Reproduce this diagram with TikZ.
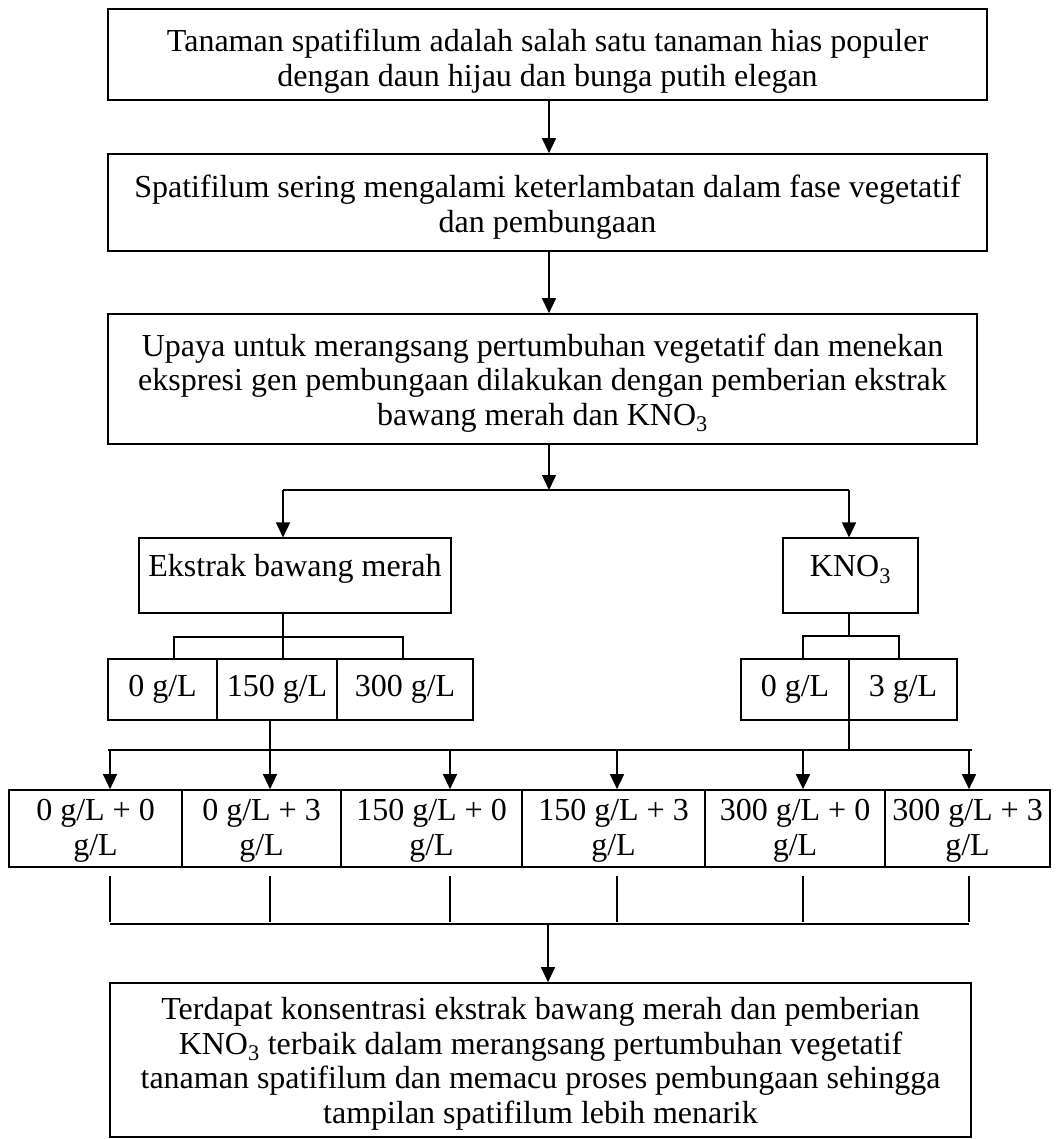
\documentclass[tikz,border=0pt]{standalone}
\usepackage{fontspec}
\setmainfont{Liberation Serif}
\usetikzlibrary{arrows.meta}
\begin{document}
\begin{tikzpicture}[x=1pt,y=-1pt,
  box/.style={draw,line width=1.7pt,align=center,inner sep=0pt,font=\fontsize{32}{34.5}\selectfont},
  ln/.style={line width=1.5pt},
  arr/.style={ln,-{Triangle[length=15pt,width=14pt]}}]
\useasboundingbox (0,0) rectangle (1062,1139);
% main boxes
\node[box,minimum width=879pt,minimum height=91pt,text height=63.6pt,text depth=0pt] (b1) at (547.5,54.5)
  {Tanaman spatifilum adalah salah satu tanaman hias populer\\dengan daun hijau dan bunga putih elegan};
\node[box,minimum width=879pt,minimum height=97pt,text height=60pt,text depth=0pt] (b2) at (547.5,202.5)
  {Spatifilum sering mengalami keterlambatan dalam fase vegetatif\\dan pembungaan};
\node[box,minimum width=869pt,minimum height=130pt,text height=92pt,text depth=0pt] (b3) at (542.5,379)
  {Upaya untuk merangsang pertumbuhan vegetatif dan menekan\\ekspresi gen pembungaan dilakukan dengan pemberian ekstrak\\bawang merah dan KNO\textsubscript{3}};
\node[box,minimum width=312pt,minimum height=75pt,text height=22pt,text depth=20pt] (ek) at (295,575.8) {Ekstrak bawang merah};
\node[box,minimum width=135pt,minimum height=75pt,text height=22pt,text depth=20pt] (kn) at (850.5,575.8) {KNO\textsubscript{3}};
% small boxes
\node[box,minimum width=109pt,minimum height=61pt] (e1) at (162.5,689.5) {0 g/L};
\node[box,minimum width=120pt,minimum height=61pt] (e2) at (277,689.5) {150 g/L};
\node[box,minimum width=136pt,minimum height=61pt] (e3) at (405,689.5) {300 g/L};
\node[box,minimum width=108pt,minimum height=61pt] (k1) at (795,689.5) {0 g/L};
\node[box,minimum width=108pt,minimum height=61pt] (k2) at (903,689.5) {3 g/L};
% combination boxes
\tikzset{combo/.style={box,minimum height=77pt,text height=53pt,text depth=0pt}}
\node[combo,minimum width=173pt] (c1) at (95.5,828.5) {0 g/L + 0\\g/L};
\node[combo,minimum width=159pt] (c2) at (261.5,828.5) {0 g/L + 3\\g/L};
\node[combo,minimum width=181pt] (c3) at (431.5,828.5) {150 g/L + 0\\g/L};
\node[combo,minimum width=183pt] (c4) at (613.5,828.5) {150 g/L + 3\\g/L};
\node[combo,minimum width=180pt] (c5) at (795,828.5) {300 g/L + 0\\g/L};
\node[combo,minimum width=165pt] (c6) at (967.5,828.5) {300 g/L + 3\\g/L};
% final box
\node[box,minimum width=861pt,minimum height=154pt,text height=126pt,text depth=0pt] (fin) at (540.5,1060)
  {Terdapat konsentrasi ekstrak bawang merah dan pemberian\\KNO\textsubscript{3} terbaik dalam merangsang pertumbuhan vegetatif\\tanaman spatifilum dan memacu proses pembungaan sehingga\\tampilan spatifilum lebih menarik};
% connectors top
\coordinate (a1) at (549,0);
\draw[arr] (a1 |- b1.south) -- (a1 |- b2.north);
\draw[arr] (a1 |- b2.south) -- (a1 |- b3.north);
\coordinate (s) at (549,490);
\coordinate (sL) at (283,490);
\coordinate (sR) at (849,490);
\draw[arr] (s |- b3.south) -- (s);
\draw[ln] (sL) -- (sR);
\draw[arr] (sL) -- (sL |- ek.north);
\draw[arr] (sR) -- (sR |- kn.north);
% ekstrak bracket
\coordinate (ea) at (174,637);
\coordinate (eb) at (403,637);
\draw[ln] (sL |- ek.south) -- (sL |- e2.north);
\draw[ln] (ea |- e1.north) -- (ea) -- (eb) -- (eb |- e3.north);
% KNO3 bracket
\coordinate (ka) at (803,636);
\coordinate (kb) at (899,636);
\draw[ln] (sR |- kn.south) -- (sR |- ka);
\draw[ln] (ka |- k1.north) -- (ka) -- (kb) -- (kb |- k2.north);
% to combinations
\coordinate (m1) at (110,750);
\coordinate (m2) at (270,750);
\coordinate (m3) at (450,750);
\coordinate (m4) at (617,750);
\coordinate (m5) at (803,750);
\coordinate (m6) at (969,750);
\coordinate (mL) at (108,750);
\coordinate (mR) at (972,750);
\draw[ln] (m2 |- e2.south) -- (m2);
\draw[ln] (sR |- k1.south) -- (sR |- m1);
\draw[ln] (mL) -- (mR);
\foreach \i in {1,...,6} \draw[arr] (m\i) -- (m\i |- c\i.north);
% bottom collection
\foreach \i in {1,...,6} {
  \coordinate (u\i) at (m\i |- 0,876);
  \coordinate (v\i) at (m\i |- 0,922);
  \draw[ln] (u\i) -- (v\i);
}
\coordinate (g1) at (110,924);
\coordinate (g2) at (969,924);
\coordinate (g) at (548,924);
\draw[ln] (g1) -- (g2);
\draw[arr] (g) -- (g |- fin.north);
\end{tikzpicture}
\end{document}
